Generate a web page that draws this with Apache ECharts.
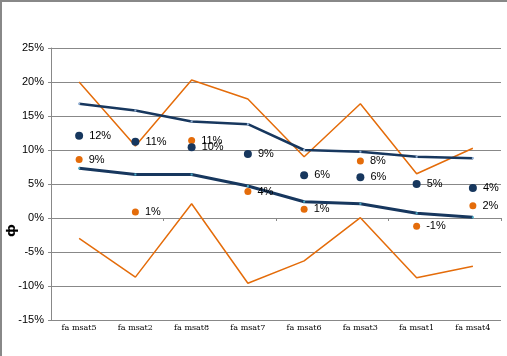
<!DOCTYPE html>
<html><head><meta charset="utf-8">
<script src="https://cdn.jsdelivr.net/npm/echarts@6/dist/echarts.min.js"></script>
<style>html,body{margin:0;padding:0;background:#fff}#c{width:507px;height:356px}</style>
</head><body><div id="c"></div>
<script>
const categories = ['fa msat5','fa msat2','fa msat8','fa msat7','fa msat6','fa msat3','fa msat1','fa msat4'];
const blueMean  = [12.1, 11.2, 10.4, 9.4, 6.3, 6.0, 5.0, 4.4];
const blueUpper = [16.8, 15.8, 14.2, 13.8, 10.0, 9.75, 9.0, 8.8];
const blueLower = [7.3, 6.4, 6.4, 4.7, 2.4, 2.1, 0.7, 0.1];
const orangeMean  = [8.6, 0.9, 11.4, 3.9, 1.3, 8.4, -1.2, 1.8];
const orangeUpper = [20.0, 10.6, 20.3, 17.5, 9.0, 16.8, 6.5, 10.25];
const orangeLower = [-3.0, -8.7, 2.1, -9.6, -6.3, 0.05, -8.8, -7.1];
const yTicks = {min: -15, max: 25, interval: 5};

const NAVY = '#17375E', ORANGE = '#E46C0A', GRAY = '#888888';
const FONT = '"Liberation Sans Narrow", "Liberation Sans", Arial, sans-serif';
const chart = echarts.init(document.getElementById('c'), null, {renderer: 'canvas'});
const lbl = {show: true, position: 'right', distance: 6, color: '#000', fontSize: 11, fontFamily: FONT,
  formatter: p => Math.round(p.value) + '%'};
chart.setOption({
  animation: false,
  grid: {left: 51, right: 6, top: 48, bottom: 36},
  xAxis: [
    {type: 'category', data: categories, boundaryGap: true,
     axisLine: {onZero: true, lineStyle: {color: GRAY, width: 1}},
     axisTick: {show: true, length: 3, lineStyle: {color: GRAY}},
     axisLabel: {show: false}, splitLine: {show: false}},
    {type: 'category', data: categories, boundaryGap: true, position: 'bottom',
     axisLine: {show: false, onZero: false}, axisTick: {show: false},
     axisLabel: {show: true, fontSize: 8, color: '#000', fontFamily: '"DejaVu Serif", serif', margin: 4}}
  ],
  yAxis: {type: 'value', min: yTicks.min, max: yTicks.max, interval: yTicks.interval,
    axisLine: {show: true, lineStyle: {color: GRAY}},
    axisTick: {show: true, length: 3, lineStyle: {color: GRAY}},
    axisLabel: {formatter: '{value}%', fontSize: 11, color: '#000', fontFamily: FONT, margin: 7},
    splitLine: {show: true, lineStyle: {color: GRAY, width: 1}}},
  graphic: [
    {type: 'line', shape: {x1: 0, y1: 1, x2: 507, y2: 1}, style: {stroke: GRAY, lineWidth: 2}},
    {type: 'line', shape: {x1: 1, y1: 0, x2: 1, y2: 356}, style: {stroke: GRAY, lineWidth: 2}},
    {type: 'text', left: 5, top: 224, rotation: Math.PI / 2,
     style: {text: 'ф', fontSize: 13, fontWeight: 'bold', fill: '#000', fontFamily: 'DejaVu Sans'}}
  ],
  series: [
    {type: 'line', data: orangeUpper, symbol: 'none', lineStyle: {color: ORANGE, width: 1.5}, z: 2},
    {type: 'line', data: orangeLower, symbol: 'none', lineStyle: {color: ORANGE, width: 1.5}, z: 2},
    {type: 'line', data: blueUpper, symbol: 'rect', symbolSize: 2, itemStyle: {color: '#95B3D7'},
     lineStyle: {color: NAVY, width: 2.5}, z: 3},
    {type: 'line', data: blueLower, symbol: 'rect', symbolSize: 2, itemStyle: {color: '#4BACC6'},
     lineStyle: {color: NAVY, width: 3}, z: 3},
    {type: 'scatter', data: orangeMean, symbolSize: 7, itemStyle: {color: ORANGE, opacity: 1}, label: lbl, z: 4},
    {type: 'scatter', data: blueMean, symbolSize: 8, itemStyle: {color: NAVY, opacity: 1}, label: lbl, z: 5}
  ]
});
</script></body></html>
